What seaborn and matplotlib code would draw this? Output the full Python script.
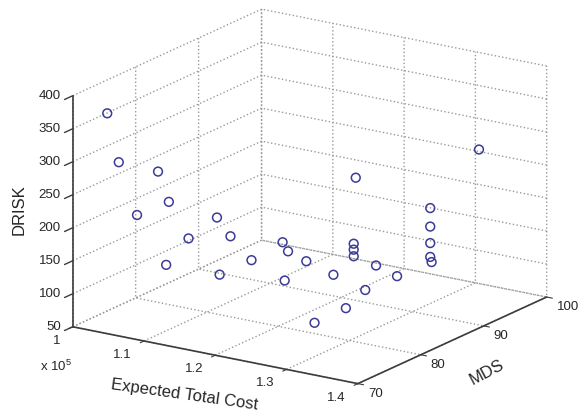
import numpy as np
import pandas as pd
import matplotlib
matplotlib.use("Agg")
import matplotlib.pyplot as plt
import seaborn as sns
from mpl_toolkits.mplot3d import proj3d

# ---------------- data ----------------
expected_total_cost = [102900, 103900, 107200, 108100, 105400, 112200, 109800, 113300,
                       107900, 112400, 115100, 117700, 118200, 119700, 117900, 122000,
                       123700, 123700, 123700, 123900, 125600, 127400, 124700, 126400,
                       127300, 130200, 130200, 130200, 130200, 130300, 134300]
mds = [72.2, 72.9, 75.4, 76.1, 74.1, 79.1, 77.3, 80.0,
       75.9, 79.3, 81.3, 83.3, 83.6, 84.8, 83.4, 86.5,
       87.8, 87.8, 87.8, 87.9, 89.2, 90.5, 88.5, 83.5,
       77.5, 92.6, 92.6, 92.6, 92.6, 92.7, 95.7]
drisk = [370, 295, 277, 230, 213, 202, 173, 172,
         135, 115, 134, 158, 144, 127, 100, 104,
         149, 140, 130, 249, 114, 96, 78, 76,
         82, 196, 168, 143, 122, 114, 280]

x_ticks = [1.0, 1.1, 1.2, 1.3, 1.4]
x_tick_labels = ["1", "1.1", "1.2", "1.3", "1.4"]
y_ticks = [70, 80, 90, 100]
z_ticks = [50, 100, 150, 200, 250, 300, 350, 400]

df = pd.DataFrame({"cost": np.array(expected_total_cost) / 1e5, "mds": mds, "drisk": drisk})

# ---------------- style ----------------
sns.set_style("white")
plt.rcParams["font.family"] = ["Liberation Sans", "DejaVu Sans"]
plt.rcParams["mathtext.fontset"] = "custom"
plt.rcParams["mathtext.rm"] = "Liberation Sans"
plt.rcParams["grid.color"] = "#9a9a9a"
plt.rcParams["grid.linestyle"] = ":"
plt.rcParams["grid.linewidth"] = 1.0

W, H = 585, 420
fig = plt.figure(figsize=(W / 100, H / 100), dpi=100)
ax = fig.add_axes([0, 0, 1, 1], projection="3d")
ax.set_proj_type("ortho")
ax.view_init(elev=17.6, azim=-56.6)
ax.set_box_aspect((340, 341.5, 241.3))

marker_color = "#3b3b96"
axis_color = "#3c3c3c"
ax.scatter(df["cost"], df["mds"], df["drisk"], s=40, facecolors="none",
           edgecolors=marker_color, linewidths=1.1, depthshade=False)

ax.set_xlim(x_ticks[0], x_ticks[-1])
ax.set_ylim(y_ticks[0], y_ticks[-1])
ax.set_zlim(z_ticks[0], z_ticks[-1])
ax.set_xticks(x_ticks)
ax.set_yticks(y_ticks)
ax.set_zticks(z_ticks)
ax.set_xticklabels([])
ax.set_yticklabels([])
ax.set_zticklabels([])

for axis in (ax.xaxis, ax.yaxis, ax.zaxis):
    axis.set_pane_color((1, 1, 1, 0))
    axis.pane.set_edgecolor((1, 1, 1, 0))
    axis._axinfo["grid"].update(color="#9a9a9a", linestyle=":", linewidth=1.0)
    axis._axinfo["tick"].update(inward_factor=0.25, outward_factor=0.0)
    axis.line.set_color(axis_color)
    axis.line.set_linewidth(1.2)
    axis.set_tick_params(color=axis_color, width=1.0)

# z axis: matplotlib would put it on the right; draw it on the left edge instead
ax.zaxis.line.set_color((1, 1, 1, 0))
ax.zaxis.set_tick_params(color=(1, 1, 1, 0))
ax.plot([x_ticks[0], x_ticks[0]], [y_ticks[0], y_ticks[0]], [z_ticks[0], z_ticks[-1]],
        color=axis_color, lw=1.2)
tick_len_y = 1.3
for zv in z_ticks:
    ax.plot([x_ticks[0], x_ticks[0]], [y_ticks[0], y_ticks[0] - tick_len_y], [zv, zv],
            color=axis_color, lw=1.0)

# ---------------- fit the box to the reference frame ----------------
def px(x, y, z):
    xs, ys, _ = proj3d.proj_transform(x, y, z, ax.get_proj())
    dx, dy = ax.transData.transform((xs, ys))
    return np.array([dx, H - dy])

tO = np.array([72.7, 326.5])
tB = np.array([546.7, 297.3])
side = 420.0
c = np.array([W / 2, H / 2])
for _ in range(6):
    ax.set_position([(c[0] - side / 2) / W, 1 - (c[1] + side / 2) / H, side / W, side / H])
    fig.canvas.draw()
    O = px(x_ticks[0], y_ticks[0], z_ticks[0])
    B = px(x_ticks[-1], y_ticks[-1], z_ticks[0])
    k = np.linalg.norm(tB - tO) / np.linalg.norm(B - O)
    mid = (O + B) / 2
    side *= k
    new_mid = c + (mid - c) * k
    c = c + ((tO + tB) / 2 - new_mid)
ax.set_position([(c[0] - side / 2) / W, 1 - (c[1] + side / 2) / H, side / W, side / H])
ax.set_xlim(x_ticks[0], x_ticks[-1])
ax.set_ylim(y_ticks[0], y_ticks[-1])
ax.set_zlim(z_ticks[0], z_ticks[-1])
fig.canvas.draw()

# ---------------- tick labels & axis labels ----------------
def ftext(p, s, **kw):
    fig.text(p[0] / W, 1 - p[1] / H, s, **kw)

tick_fs = 9.5
for xv, lab in zip(x_ticks, x_tick_labels):
    p = px(xv, y_ticks[0], z_ticks[0]) + np.array([-12, 14])
    ftext(p, lab, ha="right", va="center", fontsize=tick_fs)
for yv in y_ticks:
    p = px(x_ticks[-1], yv, z_ticks[0]) + np.array([10, 10])
    ftext(p, str(yv), ha="left", va="center", fontsize=tick_fs)
for zv in z_ticks:
    p = px(x_ticks[0], y_ticks[0], zv) + np.array([-12, 0])
    ftext(p, str(zv), ha="right", va="center", fontsize=tick_fs)

ftext((56, 366), r"x 10$^{\mathregular{5}}$", ha="center", va="center", fontsize=tick_fs)
ftext((184, 395), "Expected Total Cost", ha="center", va="center", fontsize=12,
      rotation=-8, rotation_mode="anchor")
ftext((487, 372), "MDS", ha="center", va="center", fontsize=12, rotation=28,
      rotation_mode="anchor")
ftext((19, 210), "DRISK", ha="center", va="center", fontsize=12, rotation=90,
      rotation_mode="anchor")

fig.savefig("out.png", dpi=100)
